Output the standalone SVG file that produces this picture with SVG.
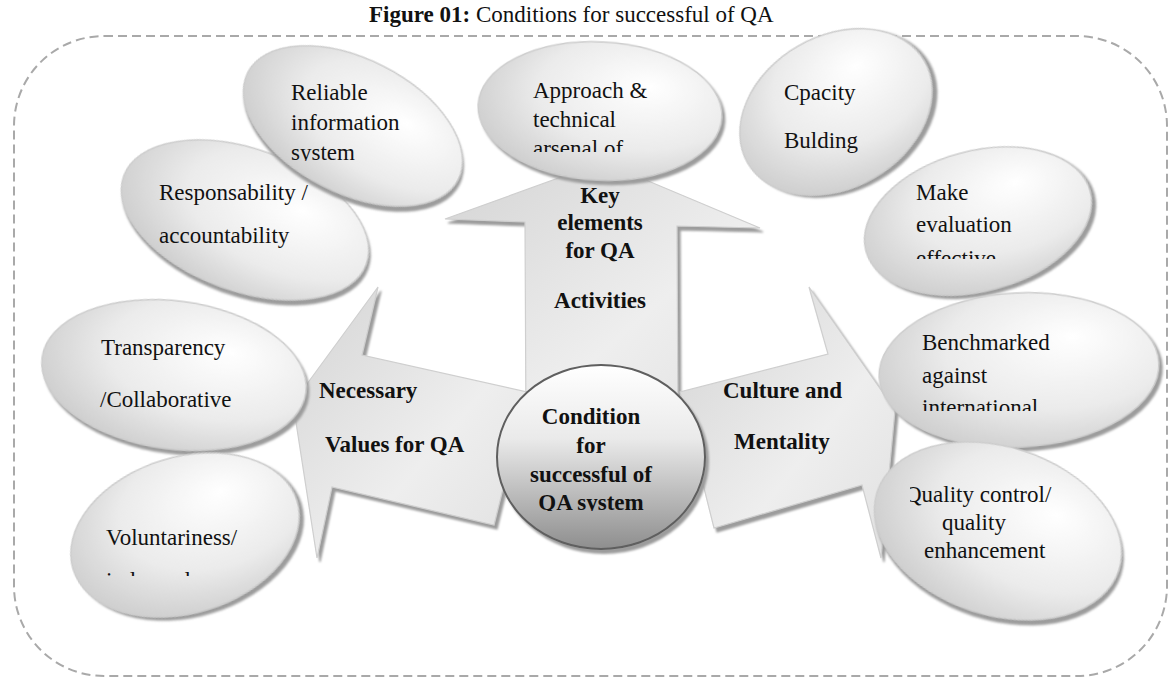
<svg xmlns="http://www.w3.org/2000/svg" width="1170" height="679" viewBox="0 0 1170 679">
<defs>
<style>
.t{font-family:'Liberation Serif','Times New Roman',serif;font-size:23px;fill:#111}
.b{font-weight:bold}
.bubble{fill:url(#gBubble);stroke:#cdcdcd;stroke-width:1.5;filter:url(#rim)}
.arrow{fill:url(#gArrow);stroke:#cfcfcf;stroke-width:1.2;filter:url(#rim)}
.hub{fill:url(#gHub);stroke:#5e5e5e;stroke-width:2;filter:url(#rim)}
.frame{fill:none;stroke:#a9a9a9;stroke-width:2;stroke-dasharray:9 5}
</style>
<radialGradient id="gBubble" cx="0.62" cy="0.4" r="0.75" fx="0.7" fy="0.3">
<stop offset="0" stop-color="#ffffff"/>
<stop offset="0.55" stop-color="#ebebeb"/>
<stop offset="1" stop-color="#c6c6c6"/>
</radialGradient>
<linearGradient id="gArrow" x1="0" y1="0" x2="1" y2="1">
<stop offset="0" stop-color="#d4d4d4"/>
<stop offset="0.6" stop-color="#eeeeee"/>
<stop offset="1" stop-color="#e0e0e0"/>
</linearGradient>
<linearGradient id="gHub" x1="0" y1="0" x2="0" y2="1">
<stop offset="0" stop-color="#ffffff"/>
<stop offset="0.4" stop-color="#eaeaea"/>
<stop offset="1" stop-color="#8e8e8e"/>
</linearGradient>
<filter id="rim" x="-10%" y="-10%" width="125%" height="125%">
<feOffset in="SourceAlpha" dx="3" dy="4" result="o"/>
<feGaussianBlur in="o" stdDeviation="0.8" result="ob"/>
<feFlood flood-color="#9c9c9c"/>
<feComposite in2="ob" operator="in" result="s"/>
<feMerge><feMergeNode in="s"/><feMergeNode in="SourceGraphic"/></feMerge>
</filter>
<!-- text boxes that cut off overflowing lines -->
<clipPath id="cReliable" clipPathUnits="userSpaceOnUse"><rect x="230" y="40" width="260" height="121"/></clipPath>
<clipPath id="cApproach" clipPathUnits="userSpaceOnUse"><rect x="470" y="40" width="260" height="112"/></clipPath>
<clipPath id="cMake" clipPathUnits="userSpaceOnUse"><rect x="860" y="150" width="240" height="109"/></clipPath>
<clipPath id="cBench" clipPathUnits="userSpaceOnUse"><rect x="870" y="290" width="290" height="121"/></clipPath>
<clipPath id="cVolunt" clipPathUnits="userSpaceOnUse"><rect x="60" y="450" width="250" height="126"/></clipPath>
<clipPath id="cQuality" clipPathUnits="userSpaceOnUse"><rect x="910" y="440" width="220" height="190"/></clipPath>
<clipPath id="cHub" clipPathUnits="userSpaceOnUse"><rect x="495" y="360" width="210" height="151"/></clipPath>
</defs>

<rect width="1170" height="679" fill="#ffffff"/>

<!-- caption -->
<text class="t" x="369" y="22" font-size="22.5"><tspan class="b">Figure 01:</tspan> Conditions for successful of QA</text>

<!-- dashed outer frame -->
<rect class="frame" x="14" y="36" width="1153" height="640" rx="90" ry="90"/>

<!-- block arrows leaving the central condition -->
<g id="connectors">
  <g id="arrow-key-elements">
    <path class="arrow" d="M603,162 L760,228 L677,226 L678,432 L526,430 L525,222 L445,219 Z"/>
    <text class="t b" text-anchor="middle" x="600" y="203">Key</text>
    <text class="t b" text-anchor="middle" x="600" y="230">elements</text>
    <text class="t b" text-anchor="middle" x="600" y="258">for QA</text>
    <text class="t b" text-anchor="middle" x="600" y="308">Activities</text>
  </g>
  <g id="arrow-values">
    <path class="arrow" d="M293,403 L378,287 L362,355 L527,392 L494,525 L332,487 L317,558 Z"/>
    <text class="t b" x="319" y="398">Necessary</text>
    <text class="t b" x="325" y="452">Values for QA</text>
  </g>
  <g id="arrow-culture">
    <path class="arrow" d="M895,410 L881,558 L862,485 L714,528 L680,392 L828,354 L809,287 Z"/>
    <text class="t b" x="723" y="398">Culture and</text>
    <text class="t b" x="734" y="449">Mentality</text>
  </g>
</g>

<!-- central node -->
<g id="node-condition">
  <ellipse class="hub" cx="601" cy="457" rx="104" ry="92"/>
  <g clip-path="url(#cHub)">
    <text class="t b" text-anchor="middle" x="591" y="424">Condition</text>
    <text class="t b" text-anchor="middle" x="591" y="453">for</text>
    <text class="t b" text-anchor="middle" x="591" y="482">successful of</text>
    <text class="t b" text-anchor="middle" x="591" y="510">QA system</text>
  </g>
</g>

<!-- surrounding bubbles -->
<g id="node-responsability">
  <ellipse class="bubble" cx="245" cy="220" rx="129" ry="71" transform="rotate(20 245 220)"/>
  <text class="t" x="159" y="200">Responsability /</text>
  <text class="t" x="159" y="243">accountability</text>
</g>

<g id="node-reliable">
  <ellipse class="bubble" cx="353" cy="126" rx="118" ry="67" transform="rotate(27 353 126)"/>
  <g clip-path="url(#cReliable)">
    <text class="t" x="291" y="100">Reliable</text>
    <text class="t" x="291" y="130">information</text>
    <text class="t" x="291" y="160">system</text>
  </g>
</g>

<g id="node-approach">
  <ellipse class="bubble" cx="600" cy="111" rx="122" ry="69" transform="rotate(3 600 111)"/>
  <g clip-path="url(#cApproach)">
    <text class="t" x="533" y="98">Approach &amp;</text>
    <text class="t" x="533" y="127">technical</text>
    <text class="t" x="533" y="156">arsenal of</text>
  </g>
</g>

<g id="node-capacity">
  <ellipse class="bubble" cx="836" cy="112" rx="102" ry="76" transform="rotate(-30 836 112)"/>
  <text class="t" x="784" y="100">Cpacity</text>
  <text class="t" x="784" y="148">Bulding</text>
</g>

<g id="node-evaluation">
  <ellipse class="bubble" cx="978" cy="221" rx="116" ry="70" transform="rotate(-15 978 221)"/>
  <g clip-path="url(#cMake)">
    <text class="t" x="916" y="200">Make</text>
    <text class="t" x="916" y="232">evaluation</text>
    <text class="t" x="916" y="266">effective</text>
  </g>
</g>

<g id="node-benchmarked">
  <ellipse class="bubble" cx="1019" cy="370" rx="140" ry="77" transform="rotate(-3 1019 370)"/>
  <g clip-path="url(#cBench)">
    <text class="t" x="922" y="350">Benchmarked</text>
    <text class="t" x="922" y="383">against</text>
    <text class="t" x="922" y="415">international</text>
  </g>
</g>

<g id="node-quality">
  <ellipse class="bubble" cx="998" cy="531" rx="127" ry="84" transform="rotate(18 998 531)"/>
  <g clip-path="url(#cQuality)">
    <text class="t" x="905" y="502">Quality control/</text>
    <text class="t" x="942" y="530">quality</text>
    <text class="t" x="924" y="558">enhancement</text>
  </g>
</g>

<g id="node-transparency">
  <ellipse class="bubble" cx="174" cy="375" rx="133" ry="74" transform="rotate(7.5 174 375)"/>
  <text class="t" x="101" y="355">Transparency</text>
  <text class="t" x="100" y="407">/Collaborative</text>
</g>

<g id="node-voluntariness">
  <ellipse class="bubble" cx="185" cy="535" rx="117" ry="78" transform="rotate(-17 185 535)"/>
  <g clip-path="url(#cVolunt)">
    <text class="t" x="106" y="545">Voluntariness/</text>
    <text class="t" x="106" y="588">independence</text>
  </g>
</g>
</svg>
